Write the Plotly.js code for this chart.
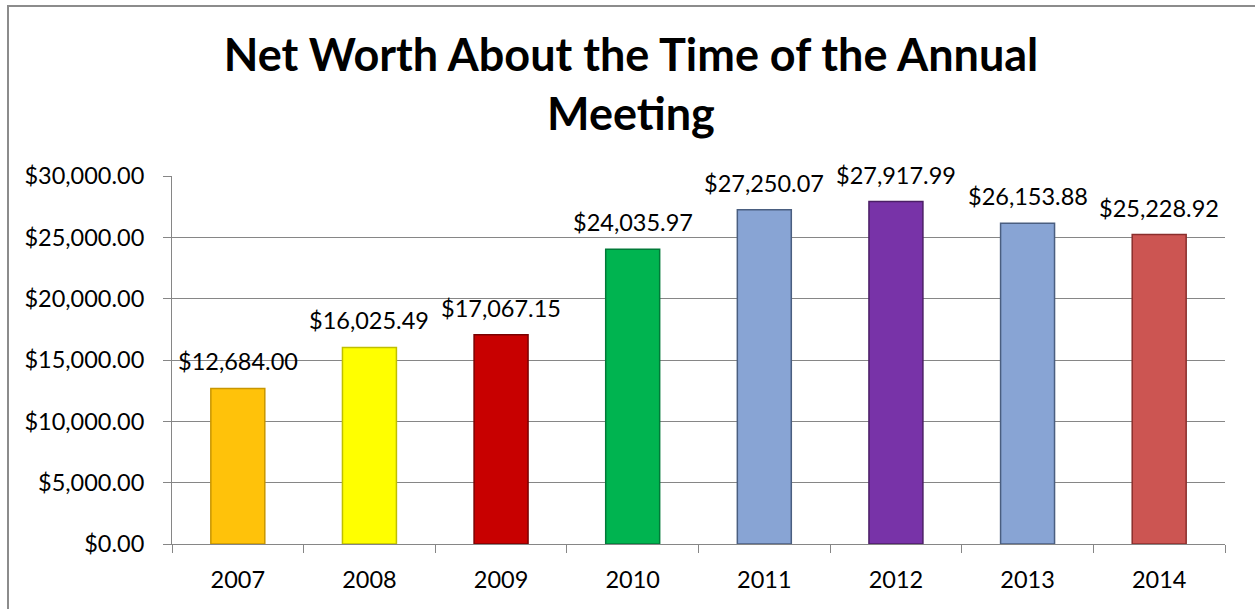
<!DOCTYPE html>
<html>
<head>
<meta charset="utf-8">
<script src="https://cdn.plot.ly/plotly-3.0.1.min.js"></script>
<style>
  html, body { margin: 0; padding: 0; background: #ffffff; }
  #wrap { position: relative; width: 1255px; height: 609px; overflow: hidden; }
  #chart { width: 1255px; height: 609px; }
  #frame { position: absolute; left: 7px; top: 5px; width: 1260px; height: 620px;
           border-left: 2px solid #8c8c8c; border-top: 2px solid #8c8c8c; pointer-events: none; }
</style>
</head>
<body>
<div id="wrap">
  <div id="chart"></div>
  <div id="frame"></div>
</div>
<script>
const years = ['2007', '2008', '2009', '2010', '2011', '2012', '2013', '2014'];
const netWorth = [12684.00, 16025.49, 17067.15, 24035.97, 27250.07, 27917.99, 26153.88, 25228.92];
const barColors = ['#FFC20A', '#FFFF00', '#C80000', '#00B450', '#88A4D4', '#7833A8', '#88A4D4', '#CC5552'];
const barEdges = ['#C89600', '#BFBF00', '#7A0000', '#007A38', '#4A5E80', '#4B1E66', '#4A5E80', '#8A2E2C'];
const yTicks = [0, 5000, 10000, 15000, 20000, 25000, 30000];
const titleText = 'Net Worth About the Time of the Annual<br>Meeting';

const fmt = v => '$' + v.toLocaleString('en-US', {minimumFractionDigits: 2, maximumFractionDigits: 2});

const FONT = 'Lato, "Open Sans", sans-serif';

const trace = {
  type: 'bar',
  x: years,
  y: netWorth,
  width: 0.41,
  marker: { color: barColors, line: { color: barEdges, width: 1.5 } },
  hoverinfo: 'none',
  cliponaxis: false
};

const annotations = years.map((yr, i) => ({
  x: i, y: netWorth[i], xref: 'x', yref: 'y',
  text: fmt(netWorth[i]),
  showarrow: false, yanchor: 'bottom', yshift: 11,
  font: { family: FONT, size: 23.5, color: '#000000' }
}));

const layout = {
  width: 1255, height: 609,
  margin: { l: 172, r: 30, t: 176, b: 65 },
  paper_bgcolor: '#ffffff', plot_bgcolor: '#ffffff',
  showlegend: false,
  title: {
    text: titleText,
    font: { family: FONT, size: 45, color: '#000000', weight: 'bold' },
    x: 631 / 1255, xanchor: 'center', xref: 'container',
    y: 1 - 71 / 609, yanchor: 'top', yref: 'container'
  },
  xaxis: {
    type: 'category',
    categoryorder: 'array', categoryarray: years,
    range: [-0.5, years.length - 0.5],
    showline: true, linecolor: '#868686', linewidth: 1,
    ticks: 'outside', tickson: 'boundaries', ticklen: 8, tickcolor: '#868686', tickwidth: 1,
    ticklabelstandoff: 15,
    tickfont: { family: FONT, size: 23.5, color: '#000000' },
    showgrid: false, zeroline: false
  },
  yaxis: {
    range: [0, 30000], tickvals: yTicks,
    ticktext: yTicks.map(fmt),
    showline: true, linecolor: '#868686', linewidth: 1,
    ticks: 'outside', ticklen: 8, tickcolor: '#868686', tickwidth: 1,
    ticklabelstandoff: 14,
    tickfont: { family: FONT, size: 23.5, color: '#000000' },
    showgrid: true, gridcolor: '#868686', gridwidth: 1,
    zeroline: false
  },
  annotations: annotations,
  bargap: 0.59
};

Plotly.newPlot('chart', [trace], layout, { displayModeBar: false, staticPlot: true });
</script>
</body>
</html>
